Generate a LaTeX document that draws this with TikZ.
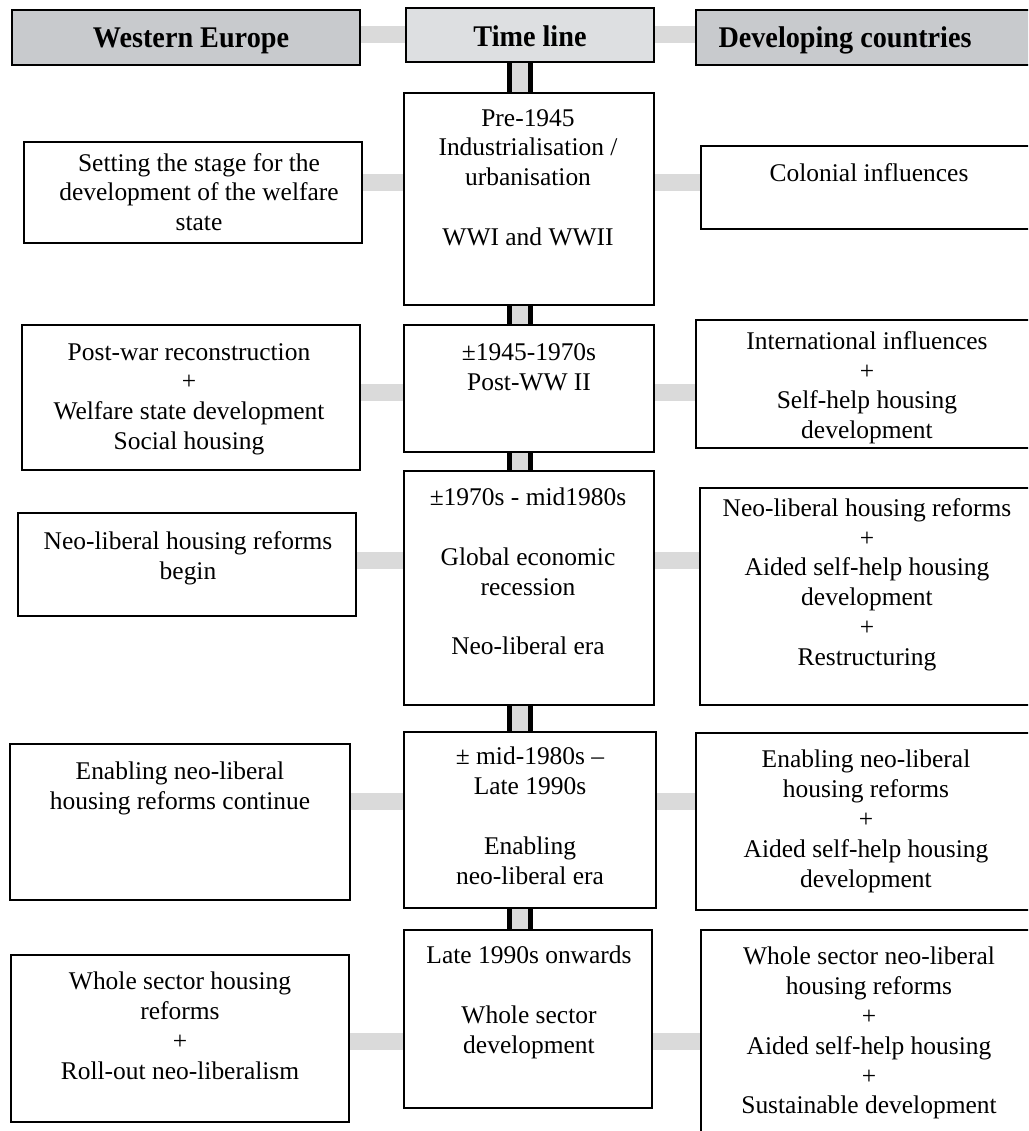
\documentclass[tikz,border=0pt]{standalone}
\usepackage{fontspec}
\usepackage{graphicx}
\setmainfont{Liberation Serif}
\usetikzlibrary{fit,calc}
\pgfdeclarelayer{background}
\pgfsetlayers{background,main}
\definecolor{headgrey}{RGB}{200,202,205}
\definecolor{headlight}{RGB}{221,223,225}
\definecolor{linkgrey}{RGB}{218,218,218}
\tikzset{
  panel/.style={draw=black, line width=1.6pt, fill=white, inner sep=0pt},
  headpanel/.style={draw=black, line width=2.1pt, fill=headgrey, inner sep=0pt},
  headlightpanel/.style={headpanel, fill=headlight},
  bodytext/.style={inner sep=0pt, align=center, anchor=north,
    font=\fontsize{19.1pt}{22.35pt}\selectfont},
  headtext/.style={inner sep=0pt, anchor=base,
    font=\fontsize{22.5pt}{26pt}\selectfont\bfseries},
  hlink/.style={draw=linkgrey, line width=12.75pt, line cap=butt},
  vlink/.style={draw=black, line width=3.75pt, double=linkgrey,
    double distance=12pt, line cap=butt}
}
% \mkbox{name}{x1}{y1}{x2}{y2}{style}
\newcommand\mkbox[6]{\node[#6, fit={(#2,#3)(#4,#5)}] (#1) {};}
\newcommand\hdr[1]{\scalebox{0.94}[1]{#1}}
\begin{document}
\begin{tikzpicture}[x=0.75pt, y=-0.75pt]
\useasboundingbox (0,0) rectangle (1028,1131);
\clip (0,0) rectangle (1028,1131);

% column headers
\mkbox{WE}{12}{10}{360}{65}{headpanel}
\mkbox{TL}{406}{8}{654}{62}{headlightpanel}
\mkbox{DC}{696}{10}{1045}{65}{headpanel}
\node[headtext] (WEt) at (191,48) {\hdr{Western Europe}};
\node[headtext] (TLt) at (530,47) {\hdr{Time line}};
\node[headtext] (DCt) at (845,48) {\hdr{Developing countries}};

% Western Europe column
\mkbox{L1}{24}{142}{362}{243}{panel}
\mkbox{L2}{22}{325}{360}{470}{panel}
\mkbox{L3}{18}{513}{356}{616}{panel}
\mkbox{L4}{10}{744}{350}{900}{panel}
\mkbox{L5}{11}{955}{349}{1122}{panel}

% time line column
\mkbox{T1}{404}{93}{654}{305}{panel}
\mkbox{T2}{404}{325}{654}{452}{panel}
\mkbox{T3}{404}{471}{654}{705}{panel}
\mkbox{T4}{404}{732}{656}{908}{panel}
\mkbox{T5}{404}{930}{652}{1108}{panel}

% developing countries column
\mkbox{R1}{701}{146}{1045}{229}{panel}
\mkbox{R2}{696}{320}{1045}{448}{panel}
\mkbox{R3}{700}{488}{1045}{705}{panel}
\mkbox{R4}{696}{733}{1045}{910}{panel}
\mkbox{R5}{701}{930}{1045}{1140}{panel}

% texts
\node[bodytext] (L1t) at (199,153) {Setting the stage for the\\development of the welfare\\state};
\node[bodytext] (L2t) at (189,343) {Post-war reconstruction\\+\\Welfare state development\\Social housing};
\node[bodytext] (L3t) at (188,531) {Neo-liberal housing reforms\\begin};
\node[bodytext] (L4t) at (180,762) {Enabling neo-liberal\\housing reforms continue};
\node[bodytext] (L5t) at (180,972) {Whole sector housing\\reforms\\+\\Roll-out neo-liberalism};

\node[bodytext] (T1t) at (528,109) {Pre-1945\\Industrialisation /\\urbanisation\\\mbox{}\\WWI and WWII};
\node[bodytext] (T2t) at (529,343) {±1945-1970s\\Post-WW II};
\node[bodytext] (T3t) at (528,488) {±1970s - mid1980s\\\mbox{}\\Global economic\\recession\\\mbox{}\\Neo-liberal era};
\node[bodytext] (T4t) at (530,747) {± mid-1980s –\\Late 1990s\\\mbox{}\\Enabling\\neo-liberal era};
\node[bodytext] (T5t) at (529,946) {Late 1990s onwards\\\mbox{}\\Whole sector\\development};

\node[bodytext] (R1t) at (869,163) {Colonial influences};
\node[bodytext] (R2t) at (867,331) {International influences\\+\\Self-help housing\\development};
\node[bodytext] (R3t) at (867,498) {Neo-liberal housing reforms\\+\\Aided self-help housing\\development\\+\\Restructuring};
\node[bodytext] (R4t) at (866,750) {Enabling neo-liberal\\housing reforms\\+\\Aided self-help housing\\development};
\node[bodytext] (R5t) at (869,947) {Whole sector neo-liberal\\housing reforms\\+\\Aided self-help housing\\+\\Sustainable development};

% row heights of the grey links
\coordinate (h0) at (0,35);
\coordinate (h1) at (0,182);
\coordinate (h2) at (0,392);
\coordinate (h3) at (0,560);
\coordinate (h4) at (0,801);
\coordinate (h5) at (0,1041);
\coordinate (axis) at (520,0);

\begin{pgfonlayer}{background}
  % horizontal links between the columns
  \draw[hlink] (WE.east |- h0) -- (TL.west |- h0);
  \draw[hlink] (TL.east |- h0) -- (DC.west |- h0);
  \draw[hlink] (L1.east |- h1) -- (T1.west |- h1);
  \draw[hlink] (T1.east |- h1) -- (R1.west |- h1);
  \draw[hlink] (L2.east |- h2) -- (T2.west |- h2);
  \draw[hlink] (T2.east |- h2) -- (R2.west |- h2);
  \draw[hlink] (L3.east |- h3) -- (T3.west |- h3);
  \draw[hlink] (T3.east |- h3) -- (R3.west |- h3);
  \draw[hlink] (L4.east |- h4) -- (T4.west |- h4);
  \draw[hlink] (T4.east |- h4) -- (R4.west |- h4);
  \draw[hlink] (L5.east |- h5) -- (T5.west |- h5);
  \draw[hlink] (T5.east |- h5) -- (R5.west |- h5);
  % the time line spine
  \draw[vlink] (TL.south -| axis) -- (T1.north -| axis);
  \draw[vlink] (T1.south -| axis) -- (T2.north -| axis);
  \draw[vlink] (T2.south -| axis) -- (T3.north -| axis);
  \draw[vlink] (T3.south -| axis) -- (T4.north -| axis);
  \draw[vlink] (T4.south -| axis) -- (T5.north -| axis);
\end{pgfonlayer}
\end{tikzpicture}
\end{document}
